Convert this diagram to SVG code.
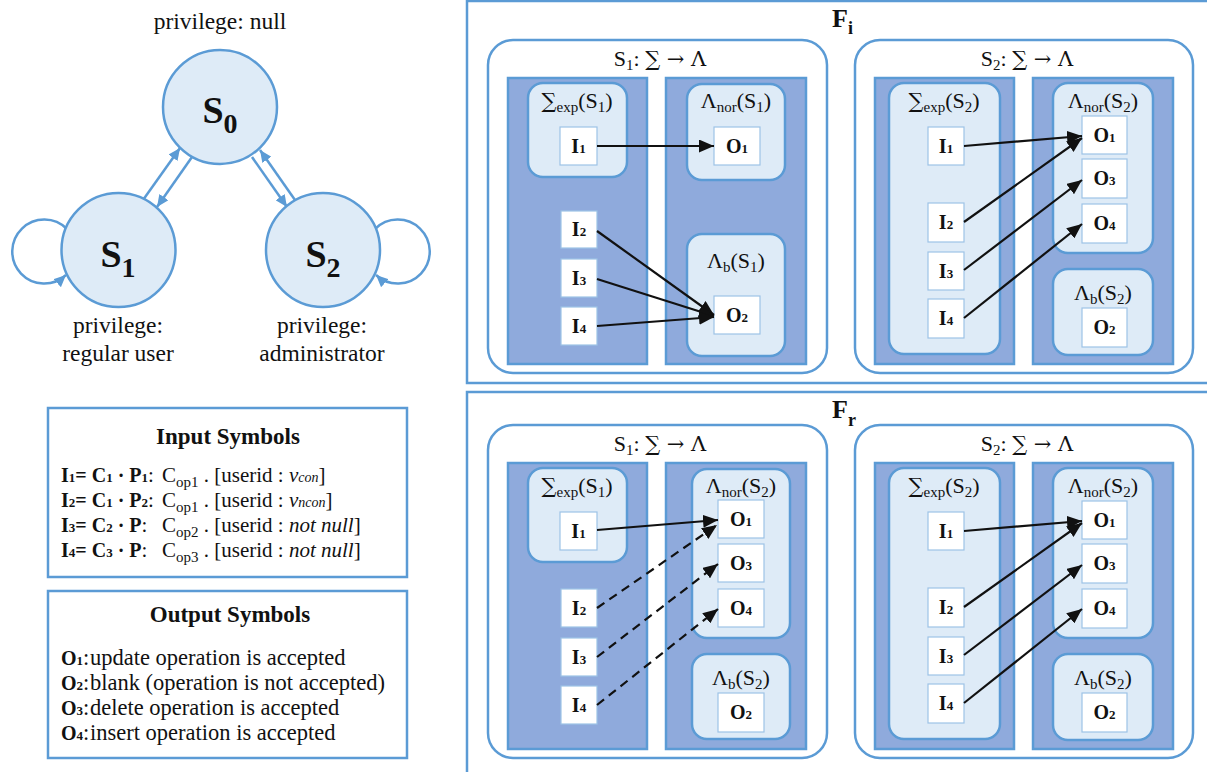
<svg xmlns="http://www.w3.org/2000/svg" width="1207" height="772" viewBox="0 0 1207 772">
<defs>
<style>
.t{font-family:"Liberation Serif","Times New Roman",serif;font-size:22px;fill:#111}
.b{font-weight:bold}
.lab{font-size:20px;font-weight:bold}
.sm{font-size:13px}
.i{font-style:italic}
.ism{font-size:14px;font-style:italic}
.sub{font-size:15px}
.sym{font-family:"DejaVu Serif",serif;font-size:21px}
.mid{text-anchor:middle}
.panel{fill:#fff;stroke:#5B9BD5;stroke-width:2.5}
.sbox{fill:#fff;stroke:#5B9BD5;stroke-width:2.5}
.col{fill:#8FAADC;stroke:#5B9BD5;stroke-width:2.5}
.lbox{fill:#DEEBF7;stroke:#5B9BD5;stroke-width:2.5}
.wbox{fill:#fff;stroke:#9DC3E6;stroke-width:1.2}
.state{fill:#DEEBF7;stroke:#5B9BD5;stroke-width:2.5}
.sedge{fill:none;stroke:#5B9BD5;stroke-width:2.5;marker-end:url(#ba)}
.edge{fill:none;stroke:#111;stroke-width:2.2;marker-end:url(#ka)}
.dash{stroke-dasharray:9 6}
</style>
<marker id="ka" markerUnits="userSpaceOnUse" markerWidth="15" markerHeight="13" refX="15" refY="6.5" orient="auto"><path d="M0,0 L15,6.5 L0,13 z" fill="#111"/></marker>
<marker id="ba" markerUnits="userSpaceOnUse" markerWidth="12" markerHeight="11" refX="12" refY="5.5" orient="auto"><path d="M0,0 L12,5.5 L0,11 z" fill="#5B9BD5"/></marker>
</defs>

<!-- State diagram -->
<g id="state-connectors">
<path class="sedge" d="M143,200 L180,148"/>
<path class="sedge" d="M192,157 L157,207"/>
<path class="sedge" d="M252,157 L287,207"/>
<path class="sedge" d="M295,200 L260,150"/>
<path class="sedge" d="M67,229 A32,32 0 1 0 66,275"/>
<path class="sedge" d="M375,229 A32,32 0 1 1 376,275"/>
</g>
<g id="S0">
<circle class="state" cx="220" cy="107" r="57"/>
<text class="t b mid" style="font-size:38px" x="220" y="123">S<tspan style="font-size:28px" dy="10">0</tspan></text>
<text class="t mid" style="font-size:23.5px" x="220" y="29">privilege: null</text>
</g>
<g id="S1">
<circle class="state" cx="118.5" cy="250" r="57"/>
<text class="t b mid" style="font-size:38px" x="118" y="267">S<tspan style="font-size:28px" dy="10">1</tspan></text>
<text class="t mid" style="font-size:23.5px" x="118" y="333">privilege:</text>
<text class="t mid" style="font-size:23.5px" x="118" y="361">regular user</text>
</g>
<g id="S2">
<circle class="state" cx="323" cy="250" r="57"/>
<text class="t b mid" style="font-size:38px" x="323" y="267">S<tspan style="font-size:28px" dy="10">2</tspan></text>
<text class="t mid" style="font-size:23.5px" x="322" y="333">privilege:</text>
<text class="t mid" style="font-size:23.5px" x="322" y="361">administrator</text>
</g>

<!-- Legends -->
<g id="input-symbols">
<rect x="48" y="408" width="359" height="169" fill="#fff" stroke="#5B9BD5" stroke-width="2.5"/>
<text class="t b mid" style="font-size:23px" x="228" y="444">Input Symbols</text>
<text class="t" style="font-size:21px" y="482"><tspan x="61" class="lab">I<tspan class="sm">1</tspan>= C<tspan class="sm">1</tspan> · P<tspan class="sm">1</tspan></tspan>:<tspan x="162">C</tspan><tspan class="sub" dy="5">op1</tspan><tspan dy="-5"> . [userid : </tspan><tspan class="i">v<tspan class="ism">con</tspan></tspan>]</text>
<text class="t" style="font-size:21px" y="507"><tspan x="61" class="lab">I<tspan class="sm">2</tspan>= C<tspan class="sm">1</tspan> · P<tspan class="sm">2</tspan></tspan>:<tspan x="162">C</tspan><tspan class="sub" dy="5">op1</tspan><tspan dy="-5"> . [userid : </tspan><tspan class="i">v<tspan class="ism">ncon</tspan></tspan>]</text>
<text class="t" style="font-size:21px" y="532"><tspan x="61" class="lab">I<tspan class="sm">3</tspan>= C<tspan class="sm">2</tspan> · P</tspan>:<tspan x="162">C</tspan><tspan class="sub" dy="5">op2</tspan><tspan dy="-5"> . [userid : </tspan><tspan class="i">not null</tspan>]</text>
<text class="t" style="font-size:21px" y="557"><tspan x="61" class="lab">I<tspan class="sm">4</tspan>= C<tspan class="sm">3</tspan> · P</tspan>:<tspan x="162">C</tspan><tspan class="sub" dy="5">op3</tspan><tspan dy="-5"> . [userid : </tspan><tspan class="i">not null</tspan>]</text>
</g>
<g id="output-symbols">
<rect x="48" y="591" width="359" height="167" fill="#fff" stroke="#5B9BD5" stroke-width="2.5"/>
<text class="t b mid" style="font-size:23px" x="230" y="622">Output Symbols</text>
<text class="t" style="font-size:22.5px" y="665"><tspan x="61" class="lab">O<tspan class="sm">1</tspan></tspan>:<tspan x="90">update operation is accepted</tspan></text>
<text class="t" style="font-size:22.5px" y="690"><tspan x="61" class="lab">O<tspan class="sm">2</tspan></tspan>:<tspan x="90">blank (operation is not accepted)</tspan></text>
<text class="t" style="font-size:22.5px" y="715"><tspan x="61" class="lab">O<tspan class="sm">3</tspan></tspan>:<tspan x="90">delete operation is accepted</tspan></text>
<text class="t" style="font-size:22.5px" y="740"><tspan x="61" class="lab">O<tspan class="sm">4</tspan></tspan>:<tspan x="90">insert operation is accepted</tspan></text>
</g>

<!-- Fi panel -->
<g id="Fi">
<rect class="panel" x="467" y="1" width="800" height="382"/>
<text class="t b" style="font-size:26px" x="832" y="27">F<tspan style="font-size:18px" dy="7">i</tspan></text>
</g>
<g id="Fi-S1">
<rect class="sbox" x="488" y="40" width="339" height="333" rx="25"/>
<text class="t mid" x="660" y="66">S<tspan class="sub" dy="4">1</tspan><tspan dy="-4">: </tspan><tspan class="sym">∑ → Λ</tspan></text>
<rect class="col" x="508" y="78" width="139" height="286"/>
<rect class="col" x="666" y="78" width="140" height="286"/>
<g id="Fi-S1-sigma">
<rect class="lbox" x="528" y="83" width="99" height="94" rx="15"/>
<text class="t mid" x="577" y="108"><tspan class="sym">∑</tspan><tspan class="sub" dy="4">exp</tspan><tspan dy="-4">(S</tspan><tspan class="sub" dy="4">1</tspan><tspan dy="-4">)</tspan></text>
</g>
<g id="Fi-S1-I1"><rect class="wbox" x="560" y="127" width="37" height="38"/><text class="t lab mid" x="578.5" y="153">I<tspan class="sm">1</tspan></text></g>
<g id="Fi-S1-I2"><rect class="wbox" x="561" y="211" width="36" height="37"/><text class="t lab mid" x="579" y="236">I<tspan class="sm">2</tspan></text></g>
<g id="Fi-S1-I3"><rect class="wbox" x="561" y="259" width="36" height="38"/><text class="t lab mid" x="579" y="285">I<tspan class="sm">3</tspan></text></g>
<g id="Fi-S1-I4"><rect class="wbox" x="561" y="307" width="36" height="38"/><text class="t lab mid" x="579" y="333">I<tspan class="sm">4</tspan></text></g>
<g id="Fi-S1-nor">
<rect class="lbox" x="687" y="84" width="98" height="96" rx="15"/>
<text class="t mid" x="736" y="108">Λ<tspan class="sub" dy="4">nor</tspan><tspan dy="-4">(S</tspan><tspan class="sub" dy="4">1</tspan><tspan dy="-4">)</tspan></text>
</g>
<g id="Fi-S1-O1"><rect class="wbox" x="714" y="127" width="46" height="38"/><text class="t lab mid" x="737" y="153">O<tspan class="sm">1</tspan></text></g>
<g id="Fi-S1-b">
<rect class="lbox" x="687" y="234" width="98" height="122" rx="15"/>
<text class="t mid" x="736" y="268">Λ<tspan class="sub" dy="4">b</tspan><tspan dy="-4">(S</tspan><tspan class="sub" dy="4">1</tspan><tspan dy="-4">)</tspan></text>
</g>
<g id="Fi-S1-O2"><rect class="wbox" x="714" y="296" width="46" height="38"/><text class="t lab mid" x="737" y="322">O<tspan class="sm">2</tspan></text></g>
</g>
<g id="Fi-S2">
<rect class="sbox" x="855" y="40" width="338" height="333" rx="25"/>
<text class="t mid" x="1027" y="66">S<tspan class="sub" dy="4">2</tspan><tspan dy="-4">: </tspan><tspan class="sym">∑ → Λ</tspan></text>
<rect class="col" x="875" y="78" width="139" height="286"/>
<rect class="col" x="1033" y="78" width="140" height="286"/>
<g id="Fi-S2-sigma">
<rect class="lbox" x="889" y="83" width="111" height="271" rx="15"/>
<text class="t mid" x="944" y="108"><tspan class="sym">∑</tspan><tspan class="sub" dy="4">exp</tspan><tspan dy="-4">(S</tspan><tspan class="sub" dy="4">2</tspan><tspan dy="-4">)</tspan></text>
</g>
<g id="Fi-S2-I1"><rect class="wbox" x="928" y="127" width="36" height="38"/><text class="t lab mid" x="946" y="153">I<tspan class="sm">1</tspan></text></g>
<g id="Fi-S2-I2"><rect class="wbox" x="928" y="203" width="36" height="39"/><text class="t lab mid" x="946" y="229">I<tspan class="sm">2</tspan></text></g>
<g id="Fi-S2-I3"><rect class="wbox" x="928" y="252" width="36" height="38"/><text class="t lab mid" x="946" y="278">I<tspan class="sm">3</tspan></text></g>
<g id="Fi-S2-I4"><rect class="wbox" x="928" y="299" width="36" height="39"/><text class="t lab mid" x="946" y="325">I<tspan class="sm">4</tspan></text></g>
<g id="Fi-S2-nor">
<rect class="lbox" x="1053" y="83" width="100" height="170" rx="15"/>
<text class="t mid" x="1103" y="108">Λ<tspan class="sub" dy="4">nor</tspan><tspan dy="-4">(S</tspan><tspan class="sub" dy="4">2</tspan><tspan dy="-4">)</tspan></text>
</g>
<g id="Fi-S2-O1"><rect class="wbox" x="1082" y="116" width="45" height="38"/><text class="t lab mid" x="1104.5" y="142">O<tspan class="sm">1</tspan></text></g>
<g id="Fi-S2-O3"><rect class="wbox" x="1082" y="159" width="45" height="39"/><text class="t lab mid" x="1104.5" y="185">O<tspan class="sm">3</tspan></text></g>
<g id="Fi-S2-O4"><rect class="wbox" x="1082" y="204" width="45" height="39"/><text class="t lab mid" x="1104.5" y="230">O<tspan class="sm">4</tspan></text></g>
<g id="Fi-S2-b">
<rect class="lbox" x="1053" y="269" width="100" height="86" rx="15"/>
<text class="t mid" x="1103" y="300">Λ<tspan class="sub" dy="4">b</tspan><tspan dy="-4">(S</tspan><tspan class="sub" dy="4">2</tspan><tspan dy="-4">)</tspan></text>
</g>
<g id="Fi-S2-O2"><rect class="wbox" x="1082" y="308" width="45" height="39"/><text class="t lab mid" x="1104.5" y="334">O<tspan class="sm">2</tspan></text></g>
</g>

<!-- Fr panel -->
<g id="Fr">
<rect class="panel" x="467" y="392" width="800" height="420"/>
<text class="t b" style="font-size:26px" x="832" y="418">F<tspan style="font-size:18px" dy="8">r</tspan></text>
</g>
<g id="Fr-S1">
<rect class="sbox" x="488" y="425" width="339" height="333" rx="25"/>
<text class="t mid" x="660" y="451">S<tspan class="sub" dy="4">1</tspan><tspan dy="-4">: </tspan><tspan class="sym">∑ → Λ</tspan></text>
<rect class="col" x="508" y="463" width="139" height="286"/>
<rect class="col" x="666" y="463" width="140" height="286"/>
<g id="Fr-S1-sigma">
<rect class="lbox" x="528" y="468" width="99" height="94" rx="15"/>
<text class="t mid" x="577" y="493"><tspan class="sym">∑</tspan><tspan class="sub" dy="4">exp</tspan><tspan dy="-4">(S</tspan><tspan class="sub" dy="4">1</tspan><tspan dy="-4">)</tspan></text>
</g>
<g id="Fr-S1-I1"><rect class="wbox" x="560" y="512" width="37" height="38"/><text class="t lab mid" x="578.5" y="538">I<tspan class="sm">1</tspan></text></g>
<g id="Fr-S1-I2"><rect class="wbox" x="561" y="589" width="36" height="38"/><text class="t lab mid" x="579" y="615">I<tspan class="sm">2</tspan></text></g>
<g id="Fr-S1-I3"><rect class="wbox" x="561" y="638" width="36" height="38"/><text class="t lab mid" x="579" y="664">I<tspan class="sm">3</tspan></text></g>
<g id="Fr-S1-I4"><rect class="wbox" x="561" y="686" width="36" height="38"/><text class="t lab mid" x="579" y="712">I<tspan class="sm">4</tspan></text></g>
<g id="Fr-S1-nor">
<rect class="lbox" x="692" y="469" width="98" height="169" rx="15"/>
<text class="t mid" x="741" y="493">Λ<tspan class="sub" dy="4">nor</tspan><tspan dy="-4">(S</tspan><tspan class="sub" dy="4">2</tspan><tspan dy="-4">)</tspan></text>
</g>
<g id="Fr-S1-O1"><rect class="wbox" x="718" y="500" width="46" height="38"/><text class="t lab mid" x="741" y="526">O<tspan class="sm">1</tspan></text></g>
<g id="Fr-S1-O3"><rect class="wbox" x="718" y="544" width="46" height="38"/><text class="t lab mid" x="741" y="570">O<tspan class="sm">3</tspan></text></g>
<g id="Fr-S1-O4"><rect class="wbox" x="718" y="589" width="46" height="38"/><text class="t lab mid" x="741" y="615">O<tspan class="sm">4</tspan></text></g>
<g id="Fr-S1-b">
<rect class="lbox" x="692" y="654" width="98" height="85" rx="15"/>
<text class="t mid" x="741" y="685">Λ<tspan class="sub" dy="4">b</tspan><tspan dy="-4">(S</tspan><tspan class="sub" dy="4">2</tspan><tspan dy="-4">)</tspan></text>
</g>
<g id="Fr-S1-O2"><rect class="wbox" x="718" y="693" width="46" height="39"/><text class="t lab mid" x="741" y="719">O<tspan class="sm">2</tspan></text></g>
</g>
<g id="Fr-S2">
<rect class="sbox" x="855" y="425" width="338" height="333" rx="25"/>
<text class="t mid" x="1027" y="451">S<tspan class="sub" dy="4">2</tspan><tspan dy="-4">: </tspan><tspan class="sym">∑ → Λ</tspan></text>
<rect class="col" x="875" y="463" width="139" height="286"/>
<rect class="col" x="1033" y="463" width="140" height="286"/>
<g id="Fr-S2-sigma">
<rect class="lbox" x="889" y="468" width="111" height="271" rx="15"/>
<text class="t mid" x="944" y="493"><tspan class="sym">∑</tspan><tspan class="sub" dy="4">exp</tspan><tspan dy="-4">(S</tspan><tspan class="sub" dy="4">2</tspan><tspan dy="-4">)</tspan></text>
</g>
<g id="Fr-S2-I1"><rect class="wbox" x="928" y="512" width="36" height="38"/><text class="t lab mid" x="946" y="538">I<tspan class="sm">1</tspan></text></g>
<g id="Fr-S2-I2"><rect class="wbox" x="928" y="588" width="36" height="39"/><text class="t lab mid" x="946" y="614">I<tspan class="sm">2</tspan></text></g>
<g id="Fr-S2-I3"><rect class="wbox" x="928" y="637" width="36" height="38"/><text class="t lab mid" x="946" y="663">I<tspan class="sm">3</tspan></text></g>
<g id="Fr-S2-I4"><rect class="wbox" x="928" y="684" width="36" height="39"/><text class="t lab mid" x="946" y="710">I<tspan class="sm">4</tspan></text></g>
<g id="Fr-S2-nor">
<rect class="lbox" x="1053" y="468" width="100" height="170" rx="15"/>
<text class="t mid" x="1103" y="493">Λ<tspan class="sub" dy="4">nor</tspan><tspan dy="-4">(S</tspan><tspan class="sub" dy="4">2</tspan><tspan dy="-4">)</tspan></text>
</g>
<g id="Fr-S2-O1"><rect class="wbox" x="1082" y="501" width="45" height="38"/><text class="t lab mid" x="1104.5" y="527">O<tspan class="sm">1</tspan></text></g>
<g id="Fr-S2-O3"><rect class="wbox" x="1082" y="544" width="45" height="39"/><text class="t lab mid" x="1104.5" y="570">O<tspan class="sm">3</tspan></text></g>
<g id="Fr-S2-O4"><rect class="wbox" x="1082" y="589" width="45" height="39"/><text class="t lab mid" x="1104.5" y="615">O<tspan class="sm">4</tspan></text></g>
<g id="Fr-S2-b">
<rect class="lbox" x="1053" y="654" width="100" height="86" rx="15"/>
<text class="t mid" x="1103" y="685">Λ<tspan class="sub" dy="4">b</tspan><tspan dy="-4">(S</tspan><tspan class="sub" dy="4">2</tspan><tspan dy="-4">)</tspan></text>
</g>
<g id="Fr-S2-O2"><rect class="wbox" x="1082" y="693" width="45" height="39"/><text class="t lab mid" x="1104.5" y="719">O<tspan class="sm">2</tspan></text></g>
</g>

<!-- Connectors -->
<g id="connectors">
<path class="edge" d="M597,146 L714,146"/>
<path class="edge" d="M597,231 L714,315"/>
<path class="edge" d="M597,279 L714,316"/>
<path class="edge" d="M597,326 L714,317"/>
<path class="edge" d="M964,146 L1082,136"/>
<path class="edge" d="M964,222 L1082,138"/>
<path class="edge" d="M964,270 L1082,180"/>
<path class="edge" d="M964,318 L1082,224"/>
<path class="edge" d="M597,530 L718,520"/>
<path class="edge dash" d="M597,608 L717,525"/>
<path class="edge dash" d="M597,657 L718,564"/>
<path class="edge dash" d="M597,705 L718,609"/>
<path class="edge" d="M964,531 L1082,521"/>
<path class="edge" d="M964,607 L1082,523"/>
<path class="edge" d="M964,655 L1082,565"/>
<path class="edge" d="M964,703 L1082,609"/>
</g>
</svg>
